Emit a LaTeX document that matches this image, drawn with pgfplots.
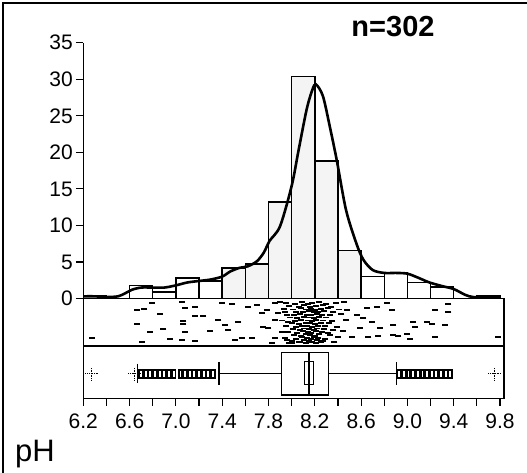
\documentclass[border=0pt]{standalone}
\usepackage{fontspec}
\setmainfont{Liberation Sans}
\usepackage{pgfplots}
\pgfplotsset{compat=1.18}

\begin{document}
\begin{tikzpicture}
\useasboundingbox (-83.3pt,-74.7pt) rectangle (443.7pt,398.3pt);
\draw[line width=1.5pt] (-80.3pt,-74.7pt) -- (-80.3pt,395.3pt) -- (443.7pt,395.3pt);
\begin{axis}[
    scale only axis,
    width=416.7pt, height=355.6pt,
    xmin=6.2, xmax=9.8, ymin=-13.65, ymax=35,
    axis x line*=bottom, axis y line*=left,
    axis line style={line width=1.3pt, -},
    clip=false,
    tick align=outside,
    major tick length=7.5pt, minor tick length=7.5pt,
    every tick/.style={line width=1.2pt, black},
    minor tick style={line width=1.2pt, black},
    ytick={0,5,10,15,20,25,30,35},
    xtick={6.2,6.6,7.0,7.4,7.8,8.2,8.6,9.0,9.4,9.8},
    minor xtick={6.4,6.8,7.2,7.6,8.0,8.4,8.8,9.2,9.6},
    xticklabel style={yshift=-5pt, /pgf/number format/.cd, fixed, fixed zerofill, precision=1},
    yticklabel style={xshift=0.5pt},
    tick label style={font=\fontsize{21}{22}\selectfont},
    /pgf/number format/assume math mode=true,
]
% histogram (percent of n=302)
\addplot[ybar interval, fill=white, draw=black, line width=1.4pt] coordinates {
    (6.2,0.33) (6.4,0) (6.6,1.8) (6.8,0.9) (7.0,2.8) (7.2,2.4) (7.4,4.2) (7.6,4.7)
    (7.8,13.2) (8.0,30.4) (8.2,18.8) (8.4,6.6) (8.6,3.0) (8.8,3.5) (9.0,2.2)
    (9.2,1.6) (9.4,0) (9.6,0.33) (9.8,0)
};
\addplot[ybar interval, fill=gray!9, draw=black, line width=1.4pt] coordinates {
    (7.4,4.2) (7.6,4.7) (7.8,13.2) (8.0,30.4) (8.2,18.8) (8.4,6.6) (8.6,0)
};
% density curve
\addplot[smooth, tension=0.5, line width=2.6pt, black] coordinates {
    (6.2,0.3) (6.3,0.3) (6.4,0.2) (6.5,0.3) (6.56,0.7) (6.62,1.2) (6.7,1.5)
    (6.8,1.5) (6.9,1.5) (7.0,1.8) (7.1,2.2) (7.2,2.4) (7.3,2.6) (7.4,3.0)
    (7.47,3.7) (7.55,4.2) (7.62,4.4) (7.7,5.1) (7.76,6.3) (7.81,7.9) (7.9,9.9)
    (8.0,15.4) (8.06,20.3) (8.13,25.9) (8.18,28.6) (8.21,29.3) (8.27,27.7)
    (8.33,23.5) (8.39,18.9) (8.47,12.1) (8.56,7.5) (8.62,5.3) (8.70,3.9)
    (8.8,3.5) (8.9,3.5) (9.0,3.4) (9.1,2.8) (9.19,2.2) (9.3,1.7) (9.4,1.3)
    (9.5,0.5) (9.57,0.2) (9.7,0.2) (9.8,0.2)
};
% panel frames
\draw[line width=1.3pt] (axis cs:6.2,0) -- (axis cs:9.835,0) -- (axis cs:9.835,-13.65) -- (axis cs:9.8,-13.65);
\draw[line width=1.3pt] (axis cs:6.2,-6.5) -- (axis cs:9.835,-6.5);
% jittered strip of observations
\addplot[only marks, mark=-, mark size=3pt, mark options={line width=1.9pt, black}] coordinates {
    (6.272,-5.36) (6.661,-1.57) (6.727,-1.48) (6.790,-0.66) (6.661,-3.49) (6.862,-2.17)
    (6.776,-4.54) (6.891,-4.22) (6.704,-5.91) (6.949,-5.49) (7.049,-0.52) (7.078,-1.35)
    (7.165,-1.12) (7.064,-3.08) (7.064,-3.49) (7.165,-2.35) (7.237,-2.35) (7.078,-4.63)
    (7.049,-5.68) (7.165,-5.81) (7.294,-4.45) (7.366,-2.94) (7.395,-0.66) (7.424,-3.63)
    (7.453,-4.31) (7.481,-0.80) (7.539,-3.17) (7.510,-5.68) (7.568,-5.36) (7.625,-1.12)
    (7.697,-0.89) (7.654,-5.36) (7.740,-2.03) (7.784,-1.57) (7.755,-3.85) (7.798,-4.08)
    (7.856,-0.66) (7.899,-0.52) (7.885,-2.03) (7.942,-1.80) (7.856,-2.94) (7.971,-3.17)
    (7.913,-4.54) (7.856,-5.45) (7.957,-5.68) (7.827,-6.05) (8.000,-6.05)
    (8.647,-1.35) (8.734,-1.12) (8.691,-3.17) (8.763,-4.08) (8.820,-0.66) (8.863,-1.57)
    (8.878,-3.63) (8.662,-5.22) (8.748,-5.09) (8.878,-4.99) (8.921,-5.13) (8.993,-4.90)
    (9.022,-5.59) (9.050,-3.17) (9.065,-3.85) (9.166,-3.17) (9.209,-3.53) (9.238,-1.57)
    (9.353,-0.80) (9.353,-1.80) (9.324,-3.63) (9.238,-5.22) (9.784,-5.22) (8.561,-2.26)
    (8.590,-4.08) (8.518,-5.22) (8.619,-2.71) (8.475,-1.57)
    (7.95,-0.6) (8.03,-0.7) (8.09,-0.5) (8.14,-0.7) (8.18,-0.6) (8.24,-0.5) (8.30,-0.7) (8.38,-0.6) (8.45,-0.5)
    (7.98,-1.0) (8.06,-1.1) (8.11,-0.9) (8.16,-1.1) (8.21,-1.0) (8.27,-0.9) (8.34,-1.1)
    (7.93,-1.4) (8.01,-1.5) (8.08,-1.3) (8.12,-1.5) (8.17,-1.4) (8.20,-1.6) (8.25,-1.4) (8.31,-1.3) (8.41,-1.5)
    (8.04,-1.8) (8.10,-1.9) (8.15,-1.7) (8.19,-1.9) (8.23,-1.8) (8.28,-1.7) (8.36,-1.9)
    (7.96,-2.2) (8.02,-2.3) (8.07,-2.1) (8.13,-2.2) (8.17,-2.3) (8.22,-2.1) (8.26,-2.2) (8.33,-2.3) (8.43,-2.1)
    (7.99,-2.6) (8.05,-2.7) (8.11,-2.5) (8.15,-2.6) (8.19,-2.7) (8.24,-2.5) (8.30,-2.6)
    (7.92,-3.0) (8.03,-3.1) (8.08,-2.9) (8.14,-3.0) (8.18,-3.1) (8.21,-2.9) (8.27,-3.0) (8.35,-3.1) (8.47,-2.9)
    (8.00,-3.4) (8.06,-3.5) (8.12,-3.3) (8.16,-3.4) (8.20,-3.5) (8.25,-3.3) (8.32,-3.4)
    (7.95,-3.8) (8.04,-3.9) (8.09,-3.7) (8.13,-3.8) (8.18,-3.9) (8.23,-3.7) (8.29,-3.8) (8.39,-3.9)
    (8.01,-4.2) (8.07,-4.3) (8.11,-4.1) (8.15,-4.2) (8.19,-4.3) (8.22,-4.1) (8.28,-4.2) (8.36,-4.3)
    (7.97,-4.6) (8.05,-4.7) (8.10,-4.5) (8.14,-4.6) (8.17,-4.7) (8.21,-4.5) (8.26,-4.6) (8.31,-4.7) (8.44,-4.5)
    (8.02,-5.0) (8.08,-5.1) (8.12,-4.9) (8.16,-5.0) (8.20,-5.1) (8.24,-4.9) (8.33,-5.0)
    (7.94,-5.4) (8.04,-5.5) (8.09,-5.3) (8.13,-5.4) (8.17,-5.5) (8.19,-5.3) (8.23,-5.4) (8.29,-5.5) (8.40,-5.3)
    (8.00,-5.8) (8.06,-5.9) (8.11,-5.7) (8.15,-5.8) (8.18,-5.9) (8.22,-5.7) (8.27,-5.8) (8.37,-5.9)
    (7.98,-6.1) (8.07,-6.0) (8.12,-6.1) (8.16,-6.0) (8.21,-6.1) (8.25,-6.0)
};
% box plot
\addplot[black, line width=1.1pt] coordinates {(7.37,-10.2) (7.91,-10.2)};
\addplot[black, line width=1.1pt] coordinates {(8.32,-10.2) (8.906,-10.2)};
\addplot[black, line width=1.6pt] coordinates {(7.37,-8.65) (7.37,-11.8)};
\addplot[black, line width=1.6pt] coordinates {(8.906,-8.65) (8.906,-11.8)};
\addplot[black, line width=1.1pt] coordinates {(7.91,-7.4) (8.32,-7.4) (8.32,-13.2) (7.91,-13.2) (7.91,-7.4)};
\addplot[black, line width=1.1pt] coordinates {(8.15,-7.4) (8.15,-13.2)};
\addplot[black, line width=1.1pt] coordinates {(8.11,-8.65) (8.19,-8.65) (8.19,-11.8) (8.11,-11.8) (8.11,-8.65)};
% outliers
\addplot[only marks, mark=square*, mark size=4.2pt,
    mark options={xscale=0.45, fill=white, draw=black, line width=1.9pt}] coordinates {
    (6.70,-10.3) (6.74,-10.3) (6.78,-10.3) (6.82,-10.3) (6.86,-10.3) (6.90,-10.3) (6.94,-10.3) (6.98,-10.3)
    (7.04,-10.3) (7.08,-10.3) (7.12,-10.3) (7.16,-10.3) (7.20,-10.3) (7.24,-10.3) (7.28,-10.3) (7.32,-10.3)
    (8.93,-10.3) (8.97,-10.3) (9.01,-10.3) (9.05,-10.3) (9.09,-10.3) (9.13,-10.3) (9.17,-10.3)
    (9.21,-10.3) (9.25,-10.3) (9.29,-10.3) (9.33,-10.3) (9.37,-10.3)
};
\addplot[only marks, mark=+, mark size=6pt, mark options={line width=0.7pt, densely dotted, black}] coordinates {
    (6.27,-10.3) (6.64,-10.3) (9.75,-10.3)
};
\addplot[black, line width=0.8pt] coordinates {(6.665,-8.9) (6.665,-11.6)};
\end{axis}
\node[anchor=base, font=\bfseries\fontsize{29}{30}\selectfont] at (309.7pt,361.3pt) {n=302};
\node[anchor=base west, inner sep=0pt, font=\fontsize{31}{32}\selectfont] at (-68.3pt,-63.7pt) {pH};
\end{tikzpicture}
\end{document}
